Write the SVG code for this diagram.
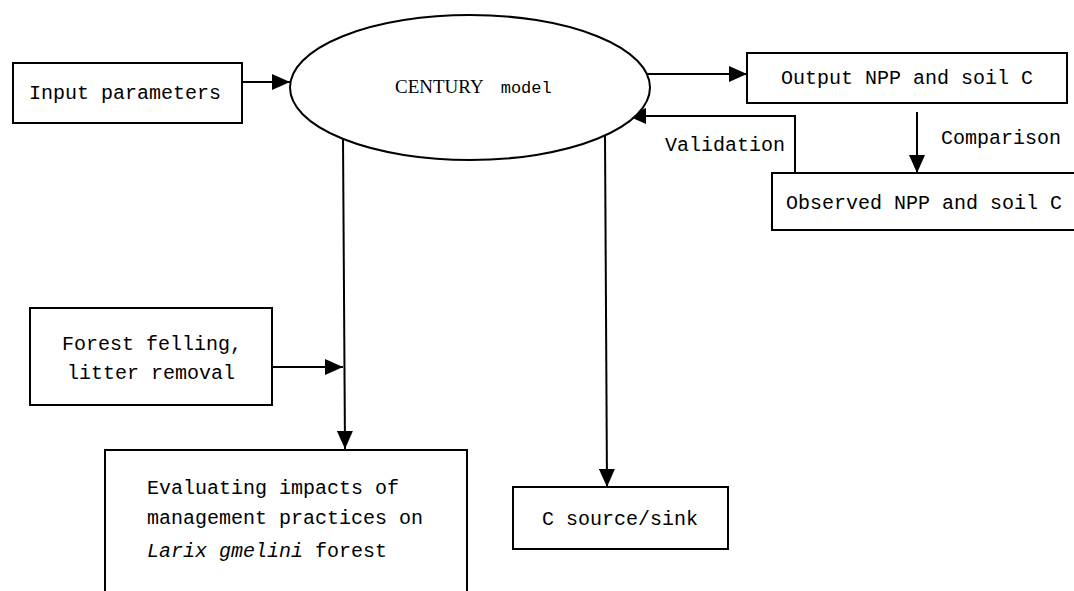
<svg xmlns="http://www.w3.org/2000/svg" width="1074" height="591" viewBox="0 0 1074 591">
<defs>
<marker id="ah" viewBox="0 0 18 16" refX="18" refY="8" markerWidth="18" markerHeight="16" markerUnits="userSpaceOnUse" orient="auto">
<path d="M0,0 L18,8 L0,16 Z" fill="#000"/>
</marker>
<style>
.box{fill:#fff;stroke:#000;stroke-width:2}
.t{font-family:"Liberation Mono",monospace;font-size:20px;fill:#000}
.c{stroke:#000;stroke-width:2;fill:none}
</style>
</defs>
<rect width="1074" height="591" fill="#fff"/>
<g id="connectors">
<line class="c" x1="242" y1="82" x2="290" y2="82" marker-end="url(#ah)"/>
<line class="c" x1="647" y1="74" x2="747" y2="74" marker-end="url(#ah)"/>
<line class="c" x1="917" y1="112" x2="917" y2="173" marker-end="url(#ah)"/>
<polyline class="c" points="795,173 795,116 628,116" marker-end="url(#ah)"/>
<line class="c" x1="343" y1="138" x2="345" y2="449" marker-end="url(#ah)"/>
<line class="c" x1="272" y1="367" x2="343" y2="367" marker-end="url(#ah)"/>
<line class="c" x1="605" y1="135" x2="607" y2="487" marker-end="url(#ah)"/>
<text class="t" x="665" y="151">Validation</text>
<text class="t" x="941" y="144">Comparison</text>
</g>
<g id="input">
<rect class="box" x="13" y="63" width="229" height="60"/>
<text class="t" x="29" y="99">Input parameters</text>
</g>
<g id="century">
<ellipse class="box" cx="470" cy="87.5" rx="180" ry="72.5"/>
<text x="395" y="93" style="fill:#000"><tspan font-family="Liberation Serif, serif" font-size="19px">CENTURY</tspan><tspan font-family="Liberation Mono, monospace" font-size="17px" dx="17">model</tspan></text>
</g>
<g id="output">
<rect class="box" x="747" y="53" width="320" height="50"/>
<text class="t" x="781" y="84">Output NPP and soil C</text>
</g>
<g id="observed">
<rect class="box" x="772" y="173" width="310" height="57"/>
<text class="t" x="786" y="209">Observed NPP and soil C</text>
</g>
<g id="felling">
<rect class="box" x="30" y="308" width="242" height="97"/>
<text class="t" x="62" y="350">Forest felling,</text>
<text class="t" x="67" y="379">litter removal</text>
</g>
<g id="evaluating">
<rect class="box" x="105" y="450" width="362" height="145"/>
<text class="t" x="147" y="494">Evaluating impacts of</text>
<text class="t" x="147" y="524">management practices on</text>
<text class="t" x="147" y="557"><tspan font-style="italic">Larix gmelini</tspan> forest</text>
</g>
<g id="csource">
<rect class="box" x="513" y="487" width="215" height="62"/>
<text class="t" x="542" y="525">C source/sink</text>
</g>
</svg>
